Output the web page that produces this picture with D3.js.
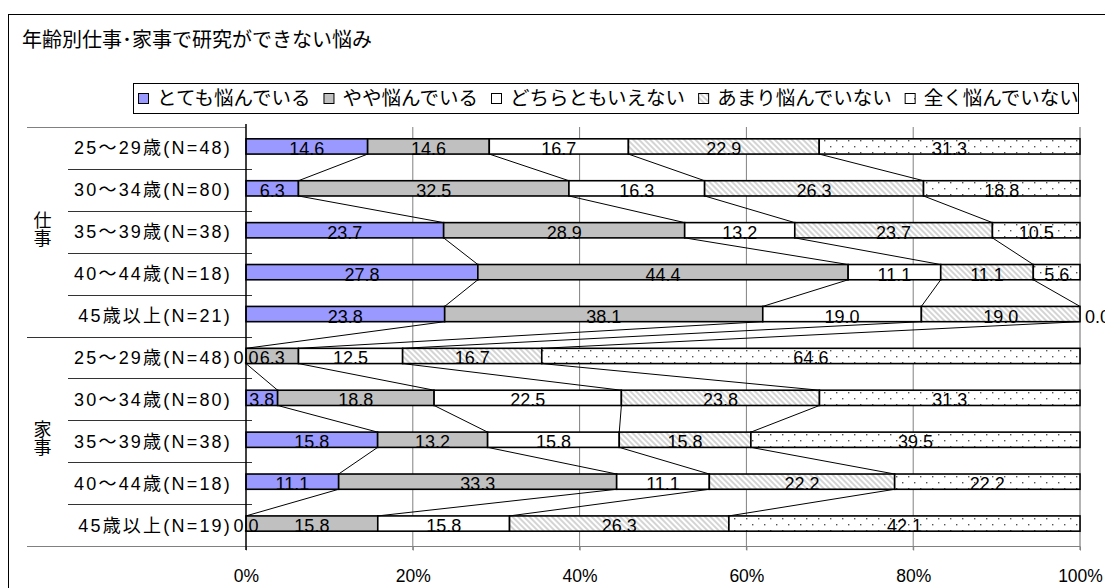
<!DOCTYPE html>
<html><head><meta charset="utf-8">
<script src="https://cdn.jsdelivr.net/npm/d3@7"></script>
<style>
html,body{margin:0;padding:0;background:#fff;}
svg{display:block;}
</style></head>
<body>
<svg id="chart" width="1105" height="588"></svg>
<script>
const title = "年齢別仕事･家事で研究ができない悩み";
const seriesNames = ["とても悩んでいる", "やや悩んでいる", "どちらともいえない", "あまり悩んでいない", "全く悩んでいない"];
const categories = ["25～29歳(N=48)", "30～34歳(N=80)", "35～39歳(N=38)", "40～44歳(N=18)", "45歳以上(N=21)",
                    "25～29歳(N=48)", "30～34歳(N=80)", "35～39歳(N=38)", "40～44歳(N=18)", "45歳以上(N=19)"];
const groupNames = ["仕事", "家事"];
const groupOfRow = [0, 0, 0, 0, 0, 1, 1, 1, 1, 1];
const totemo   = [14.6, 6.3, 23.7, 27.8, 23.8, 0.0, 3.8, 15.8, 11.1, 0.0];
const yaya     = [14.6, 32.5, 28.9, 44.4, 38.1, 6.3, 18.8, 13.2, 33.3, 15.8];
const dochira  = [16.7, 16.3, 13.2, 11.1, 19.0, 12.5, 22.5, 15.8, 11.1, 15.8];
const amari    = [22.9, 26.3, 23.7, 11.1, 19.0, 16.7, 23.8, 15.8, 22.2, 26.3];
const mattaku  = [31.3, 18.8, 10.5, 5.6, 0.0, 64.6, 31.3, 39.5, 22.2, 42.1];
const tickValues = [0, 0.2, 0.4, 0.6, 0.8, 1.0];
const tickLabels = ["0%", "20%", "40%", "60%", "80%", "100%"];

const seriesArrays = [totemo, yaya, dochira, amari, mattaku];
const keys = ["s0", "s1", "s2", "s3", "s4"];
const table = categories.map((c, i) => {
  const r = {idx: i, cat: c};
  keys.forEach((k, j) => r[k] = seriesArrays[j][i]);
  return r;
});

const svg = d3.select("#chart");
const defs = svg.append("defs");
// hatch pattern
const hp = defs.append("pattern").attr("id", "hatch").attr("patternUnits", "userSpaceOnUse")
  .attr("width", 4).attr("height", 4).attr("patternTransform", "rotate(-45)");
hp.append("rect").attr("width", 4).attr("height", 4).attr("fill", "#fff");
hp.append("line").attr("x1", 1).attr("y1", 0).attr("x2", 1).attr("y2", 4)
  .attr("stroke", "#bdbdbd").attr("stroke-width", 1.3);
// dots pattern
const dp = defs.append("pattern").attr("id", "dots").attr("patternUnits", "userSpaceOnUse")
  .attr("width", 12).attr("height", 12);
dp.append("rect").attr("width", 12).attr("height", 12).attr("fill", "#fff");
dp.append("rect").attr("x", 2).attr("y", 2).attr("width", 1.4).attr("height", 1.4).attr("fill", "#555");
dp.append("rect").attr("x", 8).attr("y", 8).attr("width", 1.4).attr("height", 1.4).attr("fill", "#555");

const fills = ["#9999ff", "#c0c0c0", "#ffffff", "url(#hatch)", "url(#dots)"];
const color = d3.scaleOrdinal().domain(keys).range(fills);

const numFont = "'Liberation Sans', Arial, sans-serif";
const jpFont = "'Noto Sans CJK JP', sans-serif";

// outer border
svg.append("rect").attr("x", 8.5).attr("y", 14.5).attr("width", 1200).attr("height", 700)
  .attr("fill", "none").attr("stroke", "#000").attr("stroke-width", 1);

// title
svg.append("text").attr("x", 22).attr("y", 47).attr("font-family", jpFont).attr("font-size", 20)
  .attr("fill", "#000").text(title);

// scales
const x = d3.scaleLinear().domain([0, 1]).range([246, 1080]);
const y = d3.scaleBand().domain(d3.range(categories.length)).range([127, 546])
  .paddingInner(0.6).paddingOuter(0.3);
const step = y.step();
const rowCenter = i => y(i) + y.bandwidth() / 2;
const barH = y.bandwidth() - 1.5;
const barTop = i => rowCenter(i) - 1.5 - barH / 2;

// gridlines
svg.append("g").selectAll("line").data(tickValues.slice(1, -1)).join("line")
  .attr("x1", d => x(d)).attr("x2", d => x(d)).attr("y1", 127).attr("y2", 550)
  .attr("stroke", "#808080").attr("stroke-width", 1);
// right border of plot
svg.append("line").attr("x1", x(1)).attr("x2", x(1)).attr("y1", 127).attr("y2", 550)
  .attr("stroke", "#808080").attr("stroke-width", 1.2);

// table lines in label area
const rowBoundaries = d3.range(categories.length + 1).map(i => y.range()[0] + i * step);
svg.append("g").selectAll("line").data(rowBoundaries).join("line")
  .attr("x1", (d, i) => (i === 0 || i === 5 || i === categories.length) ? 27 : 68)
  .attr("x2", (d, i) => i === 0 ? 246 : (i === categories.length ? x(1) : 252))
  .attr("y1", d => Math.round(d) + 0.5).attr("y2", d => Math.round(d) + 0.5)
  .attr("stroke", (d, i) => (i === 0 || i === categories.length) ? "#808080" : "#333")
  .attr("stroke-width", 1.2);

// bottom axis ticks and labels
const xAxis = d3.axisBottom(x).tickValues(tickValues).tickFormat((d, i) => tickLabels[i]).tickSize(4).tickPadding(21);
const ax = svg.append("g").attr("transform", "translate(0,546.5)").call(xAxis);
ax.select(".domain").remove();
ax.selectAll(".tick line").attr("stroke", "#808080");
ax.selectAll(".tick text").attr("font-family", numFont).attr("font-size", 17.5).attr("fill", "#000").attr("dy", "0.6em");

// stack
const stack = d3.stack().keys(keys).offset(d3.stackOffsetExpand);
const stacked = stack(table);

// bars
svg.append("g").selectAll("g").data(stacked).join("g")
  .attr("fill", d => color(d.key))
  .selectAll("rect").data(d => d).join("rect")
  .attr("x", d => x(d[0])).attr("width", d => x(d[1]) - x(d[0]))
  .attr("y", d => barTop(d.data.idx)).attr("height", barH)
  .attr("stroke", "#000").attr("stroke-width", 1.6);

// series lines
const seriesLines = [];
stacked.slice(0, 4).forEach(s => {
  for (let i = 0; i < s.length - 1; i++) {
    seriesLines.push({x1: x(s[i][1]), y1: barTop(i) + barH, x2: x(s[i + 1][1]), y2: barTop(i + 1)});
  }
});
svg.append("g").selectAll("line").data(seriesLines).join("line")
  .attr("x1", d => d.x1).attr("y1", d => d.y1).attr("x2", d => d.x2).attr("y2", d => d.y2)
  .attr("stroke", "#000").attr("stroke-width", 1);

// left axis line
svg.append("line").attr("x1", 246).attr("x2", 246).attr("y1", 124).attr("y2", 550)
  .attr("stroke", "#000").attr("stroke-width", 1.5);

// value labels
const labels = [];
stacked.forEach((s, k) => s.forEach(d => {
  const v = seriesArrays[k][d.data.idx];
  const cx = (x(d[0]) + x(d[1])) / 2;
  const atEnd = v === 0 && d[0] > 0.999;
  labels.push({v, x: atEnd ? x(1) + 5 : cx, anchor: atEnd ? "start" : "middle", yc: barTop(d.data.idx) + barH / 2});
}));
svg.append("g").selectAll("text").data(labels).join("text")
  .attr("x", d => d.x).attr("y", d => d.yc + 8.5).attr("text-anchor", d => d.anchor)
  .attr("font-family", numFont).attr("font-size", 18).attr("fill", "#000")
  .text(d => d.v.toFixed(1));

// category labels
svg.append("g").selectAll("text").data(categories).join("text")
  .attr("x", 232).attr("y", (d, i) => rowCenter(i) + 6.5).attr("text-anchor", "end")
  .attr("font-family", "'Liberation Sans', Arial, 'Noto Sans CJK JP', sans-serif").attr("font-size", 18)
  .attr("letter-spacing", 2.2).attr("fill", "#000").text(d => d);

// group labels (vertical)
groupNames.forEach((g, gi) => {
  const rows = groupOfRow.map((v, i) => v === gi ? i : -1).filter(i => i >= 0);
  const mid = (rowBoundaries[rows[0]] + rowBoundaries[rows[rows.length - 1] + 1]) / 2;
  svg.append("text").attr("x", 42.5).attr("y", mid - 3).attr("text-anchor", "middle")
    .attr("writing-mode", "vertical-rl").attr("font-family", jpFont).attr("font-size", 18)
    .attr("fill", "#000").text(g);
});

// legend
const lg = svg.append("g");
lg.append("rect").attr("x", 133.5).attr("y", 83.5).attr("width", 945).attr("height", 30)
  .attr("fill", "#fff").attr("stroke", "#000").attr("stroke-width", 1);
let lx = 138;
seriesNames.forEach((n, i) => {
  lg.append("rect").attr("x", lx + 0.5).attr("y", 93.5).attr("width", 10).attr("height", 10)
    .attr("fill", fills[i]).attr("stroke", "#000").attr("stroke-width", 1);
  const t = lg.append("text").attr("x", lx + 19).attr("y", 105).attr("font-family", jpFont)
    .attr("font-size", 19.5).attr("fill", "#000").text(n);
  lx = lx + 19 + t.node().getComputedTextLength() + 13;
});
</script>
</body></html>
